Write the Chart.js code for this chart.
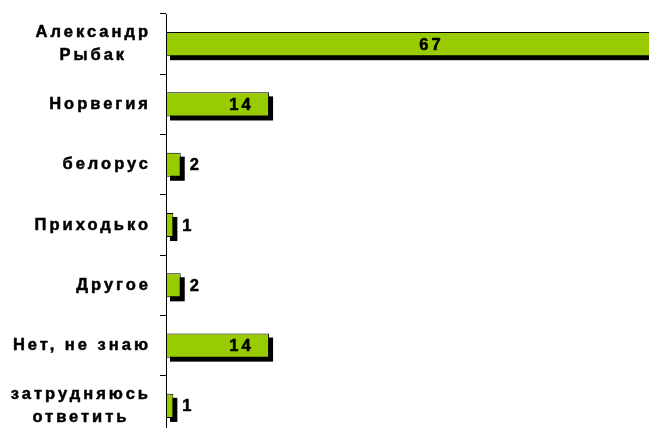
<!DOCTYPE html>
<html>
<head>
<meta charset="utf-8">
<script src="https://cdn.jsdelivr.net/npm/chart.js@4"></script>
<style>
html,body{margin:0;padding:0;background:#fff;overflow:hidden;}
#wrap{width:649px;height:436px;}
</style>
</head>
<body>
<div id="wrap"><canvas id="c" width="649" height="436"></canvas></div>
<script>
const categories = [["Александр","Рыбак"],"Норвегия","белорус","Приходько","Другое","Нет, не знаю",["затрудняюсь","ответить"]];
const values = [67,14,2,1,2,14,1];
const xMax = 65.6;

const FONT = 'bold 16.5px Arial, "Liberation Sans", sans-serif';
const SPACING = '3px';

function boldText(ctx, t, x, y) {
  ctx.fillText(t, x, y);
  ctx.strokeText(t, x, y);
}

const customDraw = {
  id: 'customDraw',
  beforeDatasetsDraw(chart) {
    const ctx = chart.ctx, area = chart.chartArea;
    const meta = chart.getDatasetMeta(0);
    ctx.save();
    ctx.beginPath();
    ctx.rect(area.left, area.top, area.right - area.left, area.bottom - area.top);
    ctx.clip();
    ctx.fillStyle = '#000';
    meta.data.forEach(b => {
      const h = b.height;
      ctx.fillRect(b.base + 4, b.y - h / 2 + 4, b.x - b.base, h);
    });
    ctx.restore();
  },
  afterDatasetsDraw(chart) {
    const ctx = chart.ctx, area = chart.chartArea;
    const meta = chart.getDatasetMeta(0);
    ctx.save();
    ctx.font = FONT;
    ctx.letterSpacing = SPACING;
    ctx.fillStyle = '#000';
    ctx.strokeStyle = '#000';
    ctx.lineWidth = 0.5;
    ctx.textBaseline = 'middle';
    meta.data.forEach((b, i) => {
      const v = values[i];
      const txt = String(v);
      if (v >= 10) {
        const end = Math.min(b.x, area.right);
        ctx.textAlign = 'center';
        boldText(ctx, txt, (b.base + end) / 2 + 24, b.y + 1);
      } else {
        ctx.textAlign = 'left';
        boldText(ctx, txt, b.x + 9, b.y + 1);
      }
    });
    const ys = chart.scales.y;
    const right = 151;
    const lineH = 23;
    categories.forEach((cat, i) => {
      const lines = Array.isArray(cat) ? cat : [cat];
      const w = Math.max(...lines.map(l => ctx.measureText(l).width));
      const cx = right - w / 2;
      const yc = ys.getPixelForValue(i);
      ctx.textAlign = 'center';
      lines.forEach((l, k) => {
        const y = yc + (k - (lines.length - 1) / 2) * lineH;
        boldText(ctx, l, cx, y);
      });
    });
    ctx.restore();
  }
};

new Chart(document.getElementById('c'), {
  type: 'bar',
  data: {
    labels: categories,
    datasets: [{
      data: values,
      backgroundColor: '#99CC00',
      borderColor: '#000',
      borderWidth: 1,
      borderSkipped: false,
      barPercentage: 0.8,
      categoryPercentage: 0.5
    }]
  },
  options: {
    indexAxis: 'y',
    responsive: false,
    animation: false,
    events: [],
    layout: { padding: { top: 14, left: 0, right: 0, bottom: 0 } },
    plugins: { legend: { display: false }, tooltip: { enabled: false }, title: { display: false } },
    scales: {
      x: { display: false, min: 0, max: xMax },
      y: {
        display: true,
        afterFit(s) { s.width = 166; },
        ticks: { display: false },
        grid: { display: true, drawOnChartArea: false, drawTicks: true, tickLength: 6, color: '#000', offset: true, lineWidth: 1 },
        border: { display: true, color: '#000', width: 1 }
      }
    }
  },
  plugins: [customDraw]
});
</script>
</body>
</html>
